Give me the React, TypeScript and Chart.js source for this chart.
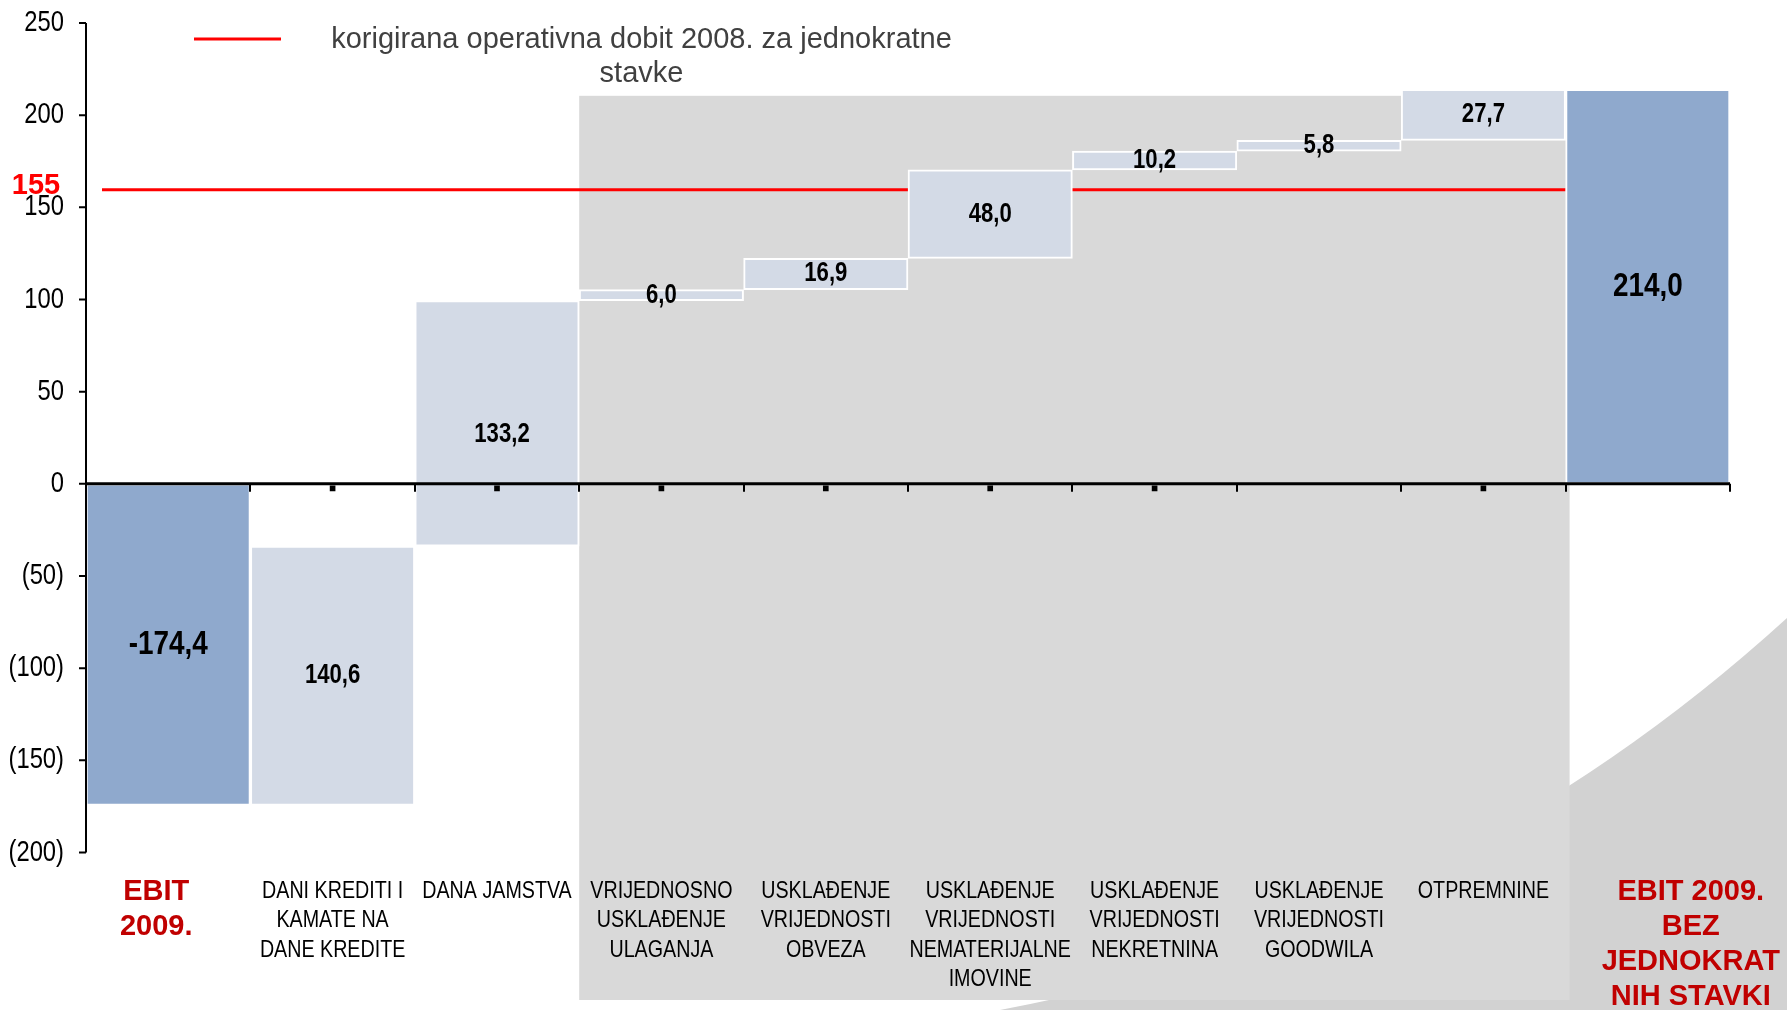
import React, { useEffect, useRef } from "react";
import { Chart, registerables } from "chart.js";

Chart.register(...registerables);

// ---------- data ----------
const categoryLabels: string[][] = [
  ["EBIT", "2009."],
  ["DANI KREDITI I", "KAMATE NA", "DANE KREDITE"],
  ["DANA JAMSTVA"],
  ["VRIJEDNOSNO", "USKLAĐENJE", "ULAGANJA"],
  ["USKLAĐENJE", "VRIJEDNOSTI", "OBVEZA"],
  ["USKLAĐENJE", "VRIJEDNOSTI", "NEMATERIJALNE", "IMOVINE"],
  ["USKLAĐENJE", "VRIJEDNOSTI", "NEKRETNINA"],
  ["USKLAĐENJE", "VRIJEDNOSTI", "GOODWILA"],
  ["OTPREMNINE"],
  ["EBIT 2009.", "BEZ", "JEDNOKRAT", "NIH STAVKI"],
];
const ebit2009 = -174.4;
const adjustments = [140.6, 133.2, 6.0, 16.9, 48.0, 10.2, 5.8, 27.7];
const ebit2009Adjusted = 214.0;
const isTotal = [true, false, false, false, false, false, false, false, false, true];
const zeroMarkers: (number | null)[] = [null, -2.5, -2.5, -2.5, -2.5, -2.5, -2.5, null, -2.5, null];
const yTicks = [250, 200, 150, 100, 50, 0, -50, -100, -150, -200];
const referenceValue = 159.5;
const referenceLabel = "155";
const legendLines = ["korigirana operativna dobit 2008. za jednokratne", "stavke"];
const shadeTopValue = 210.5;

// ---------- derived ----------
const floating: [number, number][] = [];
floating.push([0, ebit2009]);
let running = ebit2009;
for (const a of adjustments) {
  floating.push([running, running + a]);
  running += a;
}
floating.push([0, ebit2009Adjusted]);
const valueTexts = [ebit2009, ...adjustments, ebit2009Adjusted].map((v) =>
  v.toFixed(1).replace(".", ",")
);

const SANS = "'Liberation Sans', Arial, sans-serif";
const NARROW = 0.82;

function drawText(
  ctx: CanvasRenderingContext2D,
  s: string,
  x: number,
  y: number,
  font: string,
  color: string,
  align: CanvasTextAlign = "center",
  sx = 1
) {
  ctx.save();
  ctx.font = font;
  ctx.fillStyle = color;
  ctx.textAlign = align;
  ctx.textBaseline = "middle";
  ctx.translate(x, y);
  ctx.scale(sx, 1);
  ctx.fillText(s, 0, 0);
  ctx.restore();
}

const decoPlugin = {
  id: "deco",
  beforeDraw(chart: any) {
    const ctx: CanvasRenderingContext2D = chart.ctx;
    const xs = chart.scales.x;
    const ys = chart.scales.y;
    ctx.save();
    ctx.fillStyle = "#ffffff";
    ctx.fillRect(0, 0, chart.width, chart.height);
    // slide swoosh (bottom right)
    ctx.fillStyle = "#D2D2D2";
    ctx.beginPath();
    ctx.moveTo(1000, 1010);
    ctx.quadraticCurveTo(1450, 925, 1787, 618);
    ctx.lineTo(1787, 1010);
    ctx.closePath();
    ctx.fill();
    // grey shaded area behind one-off items
    const left = xs.getPixelForValue(2.5);
    const right = xs.getPixelForValue(8.5) + 4;
    const top = ys.getPixelForValue(shadeTopValue);
    ctx.fillStyle = "#D9D9D9";
    ctx.fillRect(left, top, right - left, 1000 - top);
    ctx.restore();
  },
  beforeDatasetsDraw(chart: any) {
    const ctx: CanvasRenderingContext2D = chart.ctx;
    const xs = chart.scales.x;
    const ys = chart.scales.y;
    const y = ys.getPixelForValue(referenceValue);
    ctx.save();
    ctx.strokeStyle = "#FF0000";
    ctx.lineWidth = 3;
    ctx.beginPath();
    ctx.moveTo(chart.chartArea.left + 16, y);
    ctx.lineTo(xs.getPixelForValue(8.5), y);
    ctx.stroke();
    ctx.restore();
  },
  afterDatasetsDraw(chart: any) {
    const ctx: CanvasRenderingContext2D = chart.ctx;
    const xs = chart.scales.x;
    const ys = chart.scales.y;
    const area = chart.chartArea;
    ctx.save();
    // y axis
    ctx.strokeStyle = "#000";
    ctx.lineWidth = 2;
    ctx.beginPath();
    ctx.moveTo(area.left, ys.getPixelForValue(yTicks[0]));
    ctx.lineTo(area.left, ys.getPixelForValue(yTicks[yTicks.length - 1]));
    for (const t of yTicks) {
      const py = ys.getPixelForValue(t);
      ctx.moveTo(area.left - 7, py);
      ctx.lineTo(area.left, py);
    }
    ctx.stroke();
    // zero axis
    const y0 = ys.getPixelForValue(0);
    ctx.lineWidth = 3;
    ctx.beginPath();
    ctx.moveTo(area.left, y0);
    ctx.lineTo(area.right, y0);
    ctx.stroke();
    ctx.lineWidth = 2;
    ctx.beginPath();
    for (let i = 0; i < categoryLabels.length; i++) {
      const px = Math.round(xs.getPixelForValue(i + 0.5));
      ctx.moveTo(px, y0);
      ctx.lineTo(px, y0 + 8);
    }
    ctx.stroke();
    ctx.restore();

    // y tick labels
    for (const t of yTicks) {
      const s = t < 0 ? `(${-t})` : `${t}`;
      drawText(ctx, s, area.left - 22, ys.getPixelForValue(t), `29px ${SANS}`, "#000", "right", NARROW);
    }

    // data labels
    const meta = chart.getDatasetMeta(1);
    meta.data.forEach((el: any, i: number) => {
      const p = el.getProps(["x", "y", "base"], true);
      let cy = (p.y + p.base) / 2;
      let cx = p.x;
      if (i === 2) {
        cy += 11;
        cx += 5;
      }
      const size = isTotal[i] ? 34 : 27;
      drawText(ctx, valueTexts[i], cx, cy, `bold ${size}px ${SANS}`, "#000", "center", NARROW);
    });

    // category labels
    categoryLabels.forEach((lines, i) => {
      const cx = xs.getPixelForValue(i);
      if (isTotal[i]) {
        const off = i === 0 ? -12 : 43;
        lines.forEach((ln, k) => {
          drawText(ctx, ln, cx + off, 892 + k * 35, `bold 29px ${SANS}`, "#C00000", "center", 1);
        });
      } else {
        lines.forEach((ln, k) => {
          drawText(ctx, ln, cx, 891 + k * 29.6, `24px ${SANS}`, "#000", "center", NARROW);
        });
      }
    });

    // reference label
    drawText(ctx, referenceLabel, 36, 186, `bold 29px ${SANS}`, "#FF0000", "center", 1);

    // legend
    ctx.save();
    ctx.strokeStyle = "#FF0000";
    ctx.lineWidth = 3;
    ctx.beginPath();
    ctx.moveTo(194, 39);
    ctx.lineTo(281, 39);
    ctx.stroke();
    ctx.restore();
    legendLines.forEach((ln, k) => {
      drawText(ctx, ln, 641.5, 39.5 + k * 34, `29px ${SANS}`, "#404040", "center", 1);
    });
  },
};

export default function App() {
  const ref = useRef<HTMLCanvasElement | null>(null);
  useEffect(() => {
    document.body.style.margin = "0";
    const canvas = ref.current;
    if (!canvas) return;
    const chart = new Chart(canvas, {
      type: "bar",
      data: {
        labels: categoryLabels.map((l) => l.join(" ")),
        datasets: [
          {
            type: "line",
            data: zeroMarkers,
            showLine: false,
            pointStyle: "rect",
            pointRadius: 4,
            pointBackgroundColor: "#000",
            pointBorderColor: "#000",
            pointBorderWidth: 0,
            order: 0,
          } as any,
          {
            type: "bar",
            data: floating,
            backgroundColor: isTotal.map((t) => (t ? "#8FA9CD" : "#D3DAE6")),
            borderColor: "#FFFFFF",
            borderWidth: 2,
            borderSkipped: false,
            barPercentage: 1,
            categoryPercentage: 1,
            order: 1,
          } as any,
        ],
      },
      options: {
        responsive: false,
        animation: false,
        layout: { padding: { left: 86, right: 57, top: 23, bottom: 157.5 } },
        scales: {
          x: { display: false, offset: true },
          y: { display: false, min: -200, max: 250 },
        },
        plugins: { legend: { display: false }, tooltip: { enabled: false } },
      },
      plugins: [decoPlugin],
    });
    return () => chart.destroy();
  }, []);
  return (
    <div style={{ width: 1787, height: 1010, overflow: "hidden" }}>
      <canvas ref={ref} width={1787} height={1010} style={{ display: "block" }} />
    </div>
  );
}
